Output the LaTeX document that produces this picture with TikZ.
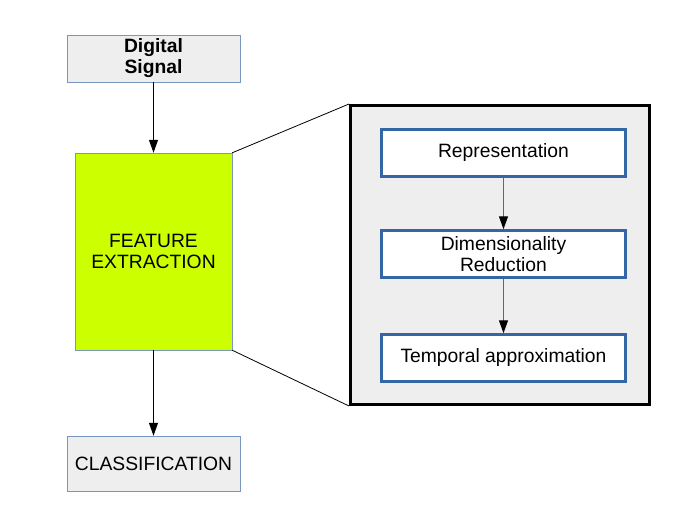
\documentclass[tikz,border=0pt]{standalone}
\usepackage{fontspec}
\setmainfont{Liberation Sans}
\usetikzlibrary{arrows.meta}

\definecolor{boxgray}{HTML}{EEEEEE}
\definecolor{boxblue}{HTML}{3465A4}
\definecolor{edgeblue}{HTML}{7896C0}
\definecolor{featgreen}{HTML}{CCFF00}

\begin{document}
\begin{tikzpicture}[x=1pt, y=-1pt,
		every node/.style={font=\fontsize{19.3}{21}\selectfont, inner sep=0pt, align=center},
		ioblock/.style={draw=edgeblue, fill=boxgray, minimum width=173pt},
		stageblock/.style={draw=boxblue, line width=2.5pt, fill=white, minimum width=244pt, minimum height=47pt},
		flow/.style={line width=1.1pt, -{Triangle[length=13pt, width=9pt, color=black]}}]
		\useasboundingbox (0,0) rectangle (699,523);
		% left column
		\node[ioblock, minimum height=47pt] (signal) at (153.5,58.5) {\textbf{Digital}\\\textbf{Signal}};
		\node[draw=edgeblue, fill=featgreen, minimum width=157pt, minimum height=197pt] (feature) at (153.5,251.5) {FEATURE\\EXTRACTION};
		\node[ioblock, minimum height=55pt] (classif) at (153.5,463.5) {CLASSIFICATION};
		\draw[flow] (signal) -- (feature);
		\draw[flow] (feature) -- (classif);
		% zoomed view of feature extraction
		\node[draw=black, line width=3pt, fill=boxgray, minimum width=299pt, minimum height=299pt] (panel) at (500,255) {};
		\draw[line width=0.8pt] (feature.north east) -- (panel.north west);
		\draw[line width=0.8pt] (feature.south east) -- (panel.south west);
		\node[stageblock] (repr) at (503.5,153) {Representation};
		\node[stageblock] (dimred) at (503.5,254) {Dimensionality\\Reduction};
		\node[stageblock] (tempapp) at (503.5,358) {Temporal approximation};
		\draw[flow, draw=black!60] (repr) -- (dimred);
		\draw[flow, draw=black!60] (dimred) -- (tempapp);
	\end{tikzpicture}
\end{document}
